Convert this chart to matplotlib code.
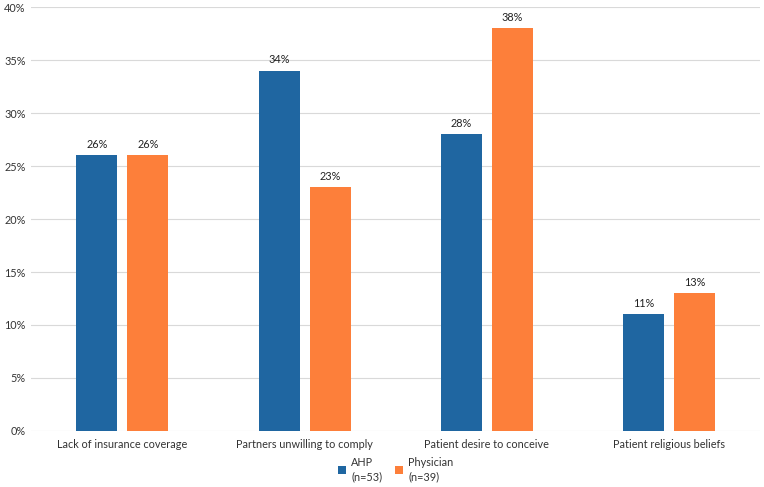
import matplotlib
matplotlib.use("Agg")
import matplotlib.pyplot as plt
import numpy as np
from matplotlib.ticker import FuncFormatter

categories = ["Lack of insurance coverage", "Partners unwilling to comply",
              "Patient desire to conceive", "Patient religious beliefs"]
ahp = [26, 34, 28, 11]
physician = [26, 23, 38, 13]
series_labels = ["AHP\n(n=53)", "Physician\n(n=39)"]
colors = ["#1F66A1", "#FD7F3A"]

plt.rcParams['font.family'] = ['Lato', 'DejaVu Sans']

fig = plt.figure(figsize=(7.64, 4.87), dpi=100)
ax = fig.add_axes([0.041, 0.115, 0.954, 0.8706])

x = np.arange(len(categories))
w = 0.225
off = 0.14
b1 = ax.bar(x - off, ahp, w, color=colors[0], label=series_labels[0], zorder=3)
b2 = ax.bar(x + off, physician, w, color=colors[1], label=series_labels[1], zorder=3)
for bars, vals in ((b1, ahp), (b2, physician)):
    for r, v in zip(bars, vals):
        ax.annotate(f"{v}%", (r.get_x() + r.get_width() / 2, v), xytext=(0, 4),
                    textcoords="offset points", ha="center", va="bottom",
                    fontsize=7.8, color="#222222")

ax.set_xlim(-0.5, len(categories) - 0.5)
ax.set_ylim(0, 40)
ax.set_yticks(np.arange(0, 41, 5))
ax.yaxis.set_major_formatter(FuncFormatter(lambda v, p: f"{int(v)}%"))
ax.set_xticks(x)
ax.set_xticklabels(categories)
ax.tick_params(axis='both', length=0, labelsize=7.8, colors="#333333")
ax.tick_params(axis='y', pad=4)
ax.tick_params(axis='x', pad=6)
ax.grid(axis='y', color="#D9D9D9", linewidth=0.8, zorder=0)
for s in ax.spines.values():
    s.set_visible(False)

leg = ax.legend(loc="upper center", bbox_to_anchor=(0.5, -0.045), ncol=2, frameon=False,
                fontsize=7.8, handlelength=0.7, handleheight=0.7, columnspacing=1.2,
                handletextpad=0.5, labelcolor="#333333", borderpad=0.1)
for t in leg.get_texts():
    t.set_linespacing(1.4)

fig.savefig("out.png", dpi=100)
